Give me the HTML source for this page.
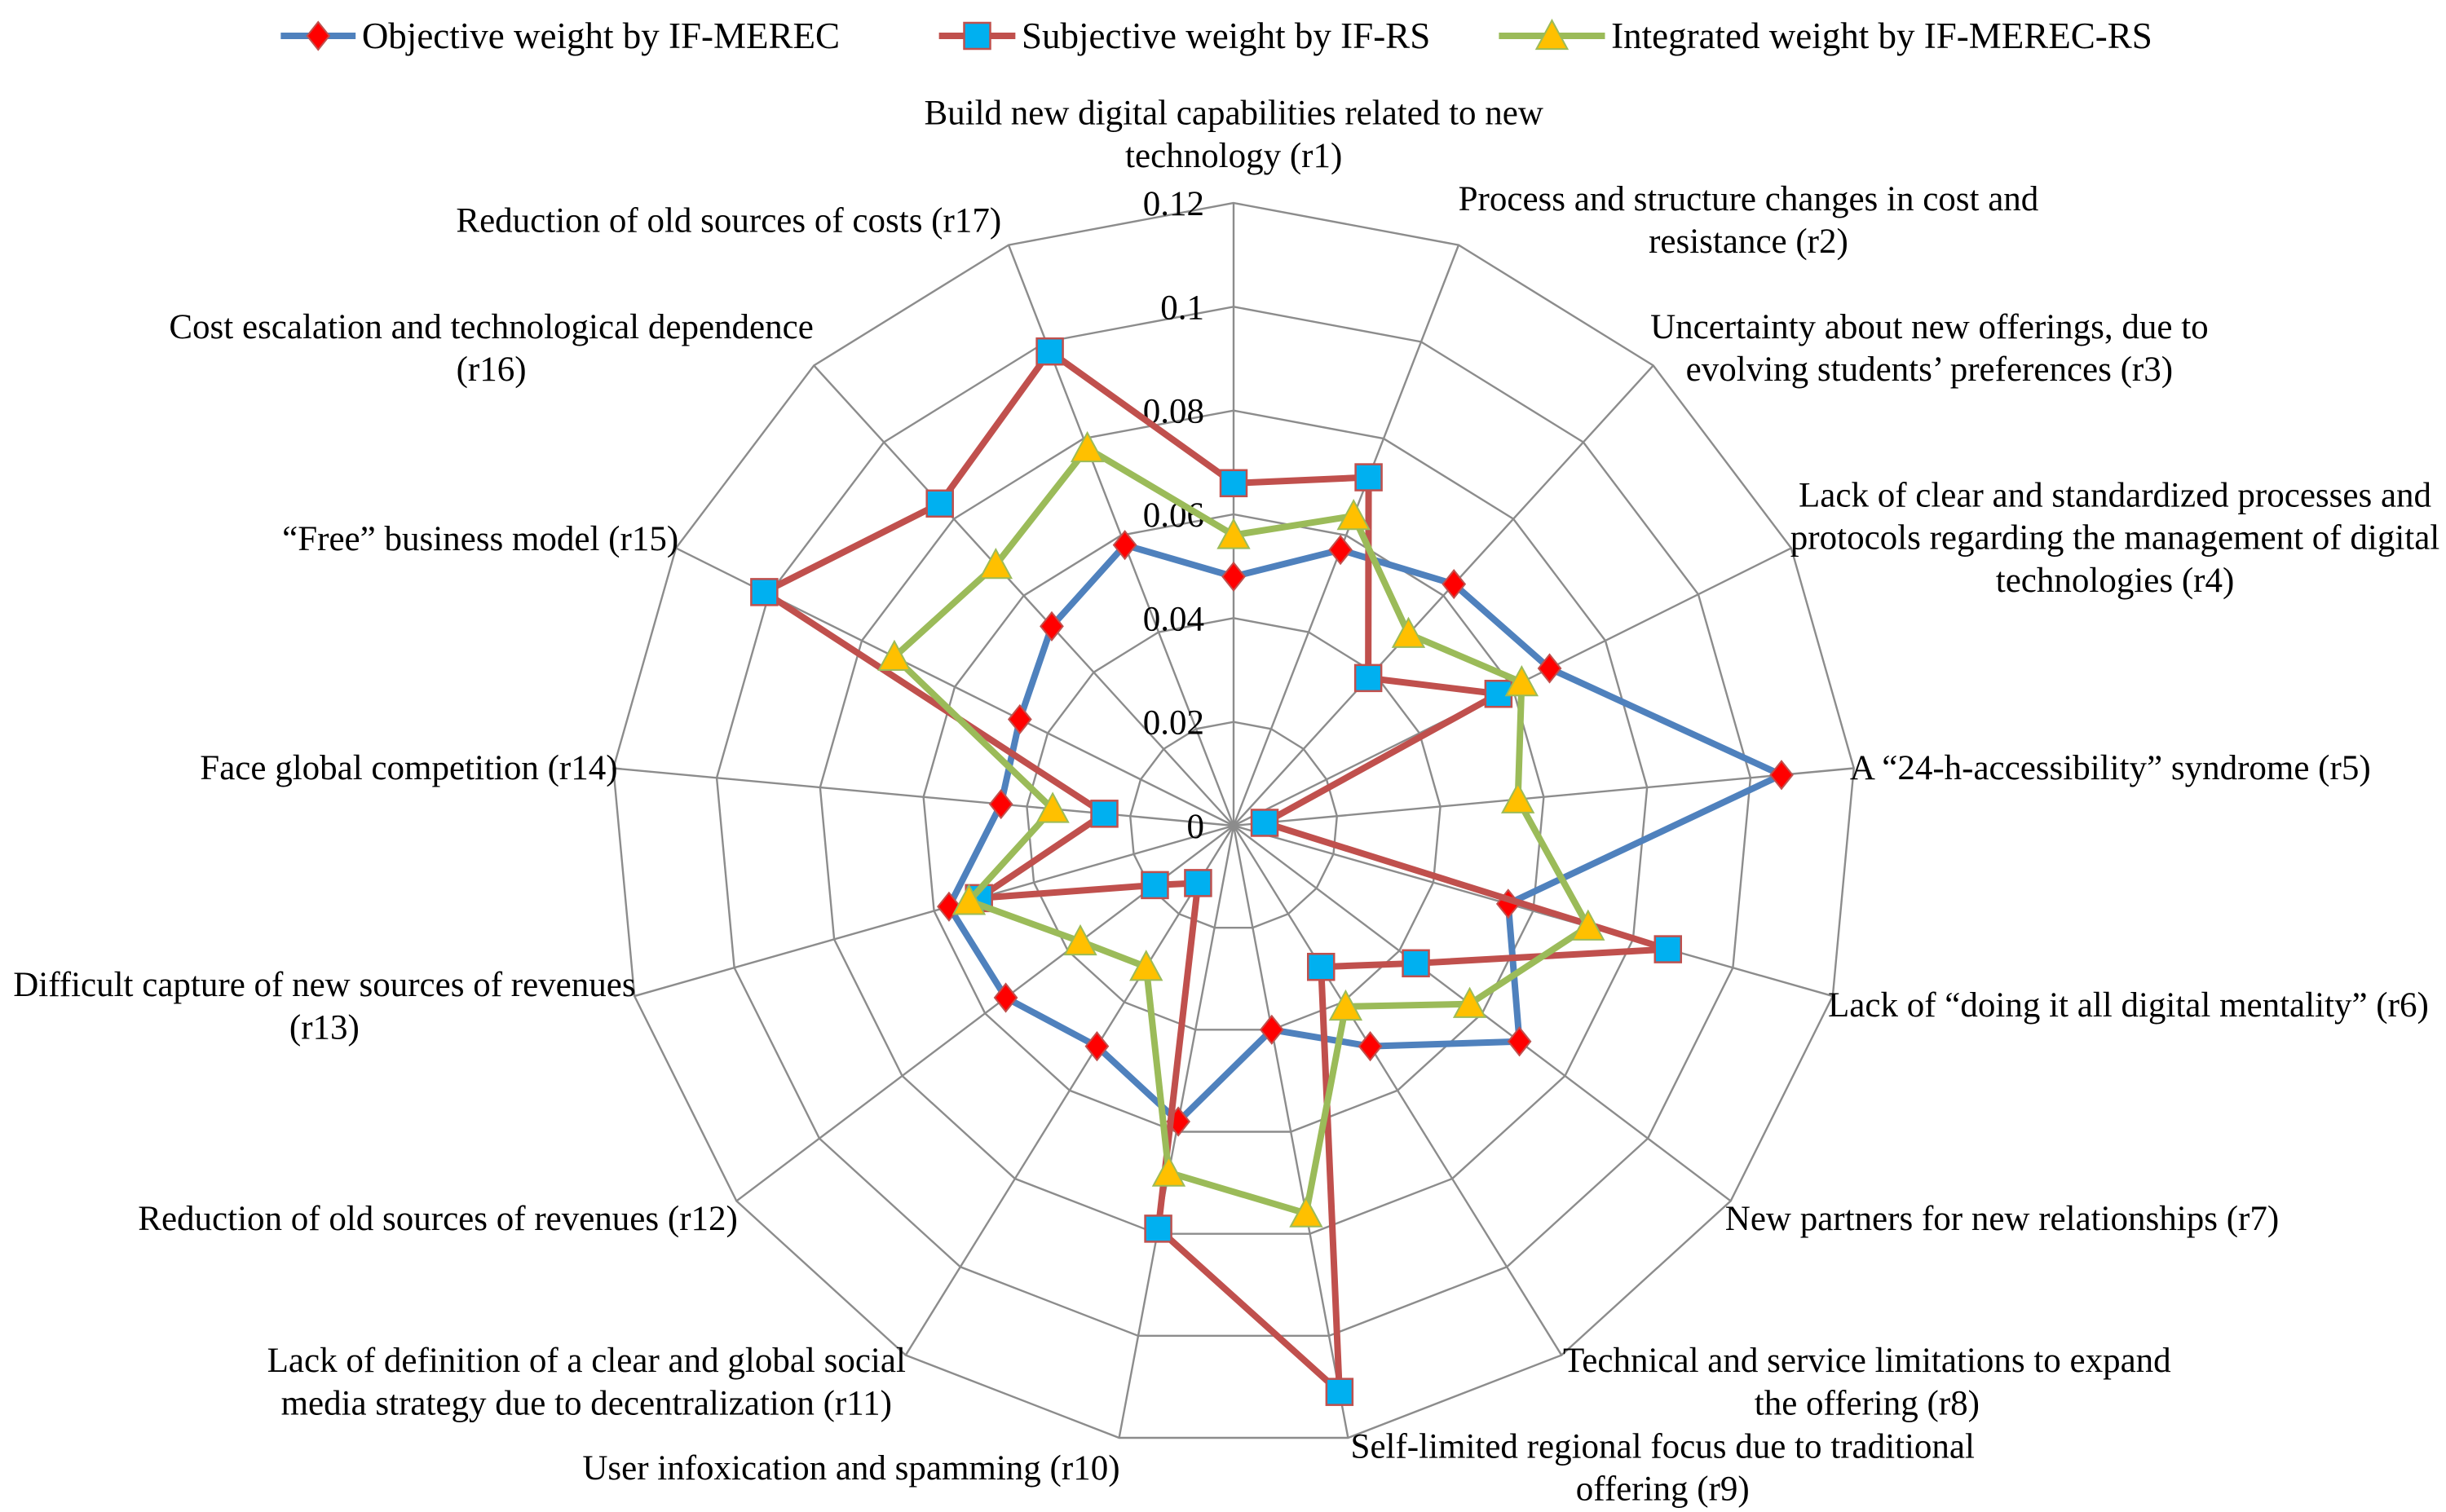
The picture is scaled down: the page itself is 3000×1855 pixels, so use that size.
<!DOCTYPE html>
<html><head><meta charset="utf-8"><style>
html,body{margin:0;padding:0;background:#fff;}
svg{display:block;font-family:"Liberation Serif",serif;}
</style></head><body>
<svg id="chart" width="3000" height="1855" viewBox="0 0 3000 1855" xmlns="http://www.w3.org/2000/svg">
<g id="grid"></g>
<g id="ticks"></g>
<g id="labels"></g>
<g id="series"></g>
<g id="legend"></g>
</svg>
<script>
const categories=["r1","r2","r3","r4","r5","r6","r7","r8","r9","r10","r11","r12","r13","r14","r15","r16","r17"];
const objective=[0.048,0.057,0.063,0.068,0.106,0.055,0.069,0.050,0.040,0.058,0.050,0.055,0.057,0.045,0.046,0.052,0.058];
const subjective=[0.066,0.072,0.0385,0.057,0.006,0.087,0.044,0.032,0.111,0.079,0.013,0.019,0.051,0.025,0.101,0.084,0.098];
const integrated=[0.056,0.064,0.050,0.062,0.055,0.071,0.057,0.041,0.076,0.068,0.032,0.037,0.053,0.035,0.073,0.068,0.078];
const tickValues=[0,0.02,0.04,0.06,0.08,0.1,0.12];
const tickLabels=["0","0.02","0.04","0.06","0.08","0.1","0.12"];
const seriesNames=["Objective weight by IF-MEREC","Subjective weight by IF-RS","Integrated weight by IF-MEREC-RS"];
const labelLines=[
["Build new digital capabilities related to new","technology (r1)"],
["Process and structure changes in cost and","resistance (r2)"],
["Uncertainty about new offerings, due to","evolving students’ preferences (r3)"],
["Lack of clear and standardized processes and","protocols regarding the management of digital","technologies (r4)"],
["A “24-h-accessibility” syndrome (r5)"],
["Lack of “doing it all digital mentality” (r6)"],
["New partners for new relationships (r7)"],
["Technical and service limitations to expand","the offering (r8)"],
["Self-limited regional focus due to traditional","offering (r9)"],
["User infoxication and spamming (r10)"],
["Lack of definition of a clear and global social","media strategy due to decentralization (r11)"],
["Reduction of old sources of revenues (r12)"],
["Difficult capture of new sources of revenues","(r13)"],
["Face global competition (r14)"],
["“Free” business model (r15)"],
["Cost escalation and technological dependence","(r16)"],
["Reduction of old sources of costs (r17)"]];
const S=1.913;
const labelPos=[[791,72,"middle"],[1121,127,"middle"],[1237,209,"middle"],[1356,317,"middle"],[1186,492,"start"],[1172,644,"start"],[1106,781,"start"],[1197,872,"middle"],[1066,927,"middle"],[718,941,"end"],[376,872,"middle"],[473,781,"end"],[208,631,"middle"],[396,492,"end"],[435,345,"end"],[315,209,"middle"],[642,141,"end"]];
const NS="http://www.w3.org/2000/svg";
const cx=1513,cy=1013,R=764,vmax=0.12,N=categories.length;
function ang(i){return -Math.PI/2+i*2*Math.PI/N;}
function rScale(v){return v/vmax*R;}
function pt(i,v){const a=ang(i),r=rScale(v);return [cx+r*Math.cos(a),cy+r*Math.sin(a)];}
function mk(tag,attrs,parent){const e=document.createElementNS(NS,tag);for(const k in attrs)e.setAttribute(k,attrs[k]);parent.appendChild(e);return e;}
const grid=document.getElementById('grid');
tickValues.slice(1).forEach((t,k)=>{
 const pts=categories.map((c,i)=>pt(i,t).join(',')).join(' ');
 const p=mk('polygon',{points:pts,fill:'none',stroke:'#8c8c8c','stroke-width':2.4},grid);
 
 
});
categories.forEach((c,i)=>{
 const e=pt(i,vmax);
 const l=mk('line',{x1:cx,y1:cy,x2:e[0],y2:e[1],stroke:'#8c8c8c','stroke-width':2.4},grid);
 
 
});
const ticks=document.getElementById('ticks');
tickValues.forEach((t,k)=>{
 const tx=mk('text',{x:cx-36,y:cy-rScale(t)+15,'text-anchor':'end','font-size':43,fill:'#000'},ticks);
 tx.textContent=tickLabels[k];
 
 
});
const labels=document.getElementById('labels');
labelLines.forEach((lines,i)=>{
 const p=labelPos[i];
 lines.forEach((ln,j)=>{
  const tx=mk('text',{x:p[0]*S,y:(p[1]+j*27.3)*S+15,'text-anchor':p[2],'font-size':43,fill:'#000'},labels);
  tx.textContent=ln;
  
  
 });
});
const colors=["#4F81BD","#C0504D","#9BBB59"];
const data=[objective,subjective,integrated];
function marker(type,x,y,parent){
 let e;
 if(type===0){const s=17;e=mk('polygon',{points:`${x},${y-s} ${x+s*0.8},${y} ${x},${y+s} ${x-s*0.8},${y}`,fill:'#FF0000',stroke:'#C0504D','stroke-width':2},parent);}
 else if(type===1){const s=16;e=mk('rect',{x:x-s,y:y-s,width:2*s,height:2*s,fill:'#00B0F0',stroke:'#C0504D','stroke-width':2.5},parent);}
 else {const s=19;e=mk('polygon',{points:`${x},${y-s} ${x+s},${y+s*0.85} ${x-s},${y+s*0.85}`,fill:'#FFC000',stroke:'#9BBB59','stroke-width':2},parent);}
 return e;
}
const series=document.getElementById('series');
data.forEach((arr,si)=>{
 const g=mk('g',{},series);
 
 
 const pts=arr.map((v,i)=>pt(i,v).join(',')).join(' ');
 const pl=mk('polygon',{points:pts,fill:'none',stroke:colors[si],'stroke-width':8,'stroke-linejoin':'round'},g);
 
 
 arr.forEach((v,i)=>{const q=pt(i,v);const m=marker(si,q[0],q[1],g);
  
  });
});
const legend=document.getElementById('legend');
const legX=[[180,232],[602,655],[961,1033]];
seriesNames.forEach((n,si)=>{
 const g=mk('g',{},legend);
 
 
 const x0=legX[si][0]*S,x1=(legX[si][1]-4)*S,y=23*S;
 mk('line',{x1:x0,y1:y,x2:x1,y2:y,stroke:colors[si],'stroke-width':8},g);
 marker(si,(x0+x1)/2,y,g);
 const t=mk('text',{x:legX[si][1]*S,y:y+15,'font-size':45,fill:'#000'},g);
 t.textContent=n;
});
</script>
</body></html>
